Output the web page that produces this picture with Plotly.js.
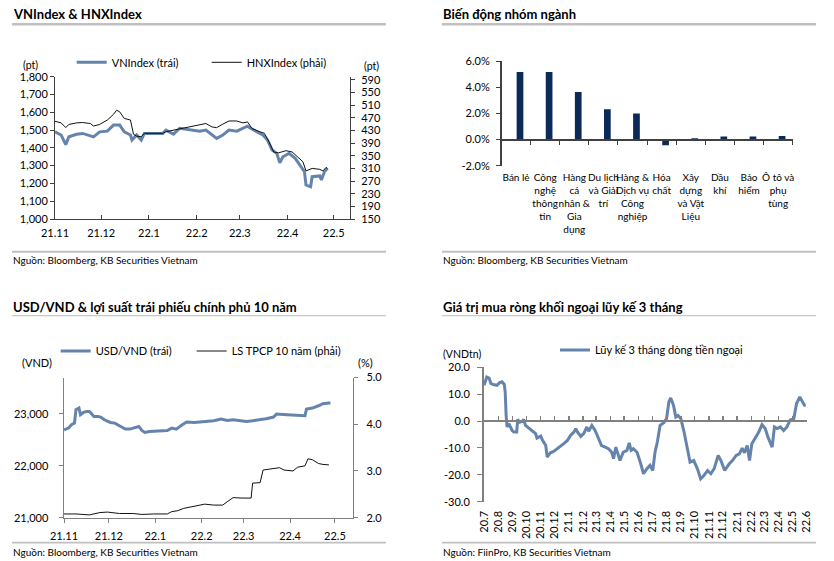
<!DOCTYPE html>
<html><head><meta charset="utf-8">
<script src="https://cdn.plot.ly/plotly-3.0.1.min.js"></script>
<style>html,body{margin:0;padding:0;background:#fff;}#chart{width:834px;height:561px;}</style>
</head><body><div id="chart"></div>
<script>
// ---------- Panel 1: VNIndex & HNXIndex ----------
const vnDates = ['2021-11-01','2021-11-05','2021-11-08','2021-11-10','2021-11-15','2021-11-19','2021-11-26','2021-11-30','2021-12-05','2021-12-09','2021-12-13','2021-12-16','2021-12-20','2021-12-21','2021-12-24','2021-12-27','2021-12-29','2022-01-02','2022-01-06','2022-01-10','2022-01-12','2022-01-17','2022-01-21','2022-01-28','2022-02-03','2022-02-07','2022-02-11','2022-02-14','2022-02-18','2022-02-22','2022-02-27','2022-03-03','2022-03-06','2022-03-08','2022-03-12','2022-03-16','2022-03-19','2022-03-22','2022-03-25','2022-03-27','2022-03-29','2022-04-02','2022-04-06','2022-04-10','2022-04-12','2022-04-13','2022-04-16','2022-04-17','2022-04-22','2022-04-23','2022-04-25','2022-04-27'];
const vnIndex = [1490,1472,1418,1462,1476,1481,1462,1490,1494,1528,1528,1490,1472,1444,1472,1444,1481,1481,1481,1481,1500,1477,1510,1500,1494,1500,1472,1453,1472,1500,1494,1510,1522,1510,1490,1472,1444,1388,1369,1316,1350,1369,1341,1294,1266,1191,1181,1238,1242,1219,1266,1285];
const hnxDates = ['2021-11-01','2021-11-05','2021-11-08','2021-11-10','2021-11-15','2021-11-19','2021-11-24','2021-11-26','2021-11-30','2021-12-05','2021-12-09','2021-12-11','2021-12-13','2021-12-16','2021-12-20','2021-12-22','2021-12-24','2021-12-27','2021-12-29','2022-01-02','2022-01-10','2022-01-12','2022-01-17','2022-01-21','2022-01-28','2022-02-03','2022-02-07','2022-02-11','2022-02-14','2022-02-18','2022-02-22','2022-02-27','2022-03-03','2022-03-06','2022-03-09','2022-03-14','2022-03-17','2022-03-20','2022-03-23','2022-03-26','2022-03-29','2022-03-31','2022-04-04','2022-04-08','2022-04-11','2022-04-13','2022-04-17','2022-04-22','2022-04-24','2022-04-26','2022-04-27'];
const hnxIndex = [459,454,439,449,454,455,452,444,449,463,481,494,489,468,463,418,412,410,421,421,421,426,431,436,441,447,452,441,439,450,460,460,454,457,436,426,421,394,362,359,362,366,362,345,331,302,310,307,302,313,310];
const p1TickVals = ['2021-11-01','2021-12-01','2022-01-01','2022-02-01','2022-03-01','2022-04-01','2022-05-01'];
const p1TickText = ['21.11','21.12','22.1','22.2','22.3','22.4','22.5'];

// ---------- Panel 2: sector change ----------
const sectorLabels = ['Bán lẻ','Công<br>nghệ<br>thông<br>tin','Hàng<br>cá<br>nhân &<br>Gia<br>dụng','Du lịch<br>và Giải<br>trí','Hàng &<br>Dịch vụ<br>Công<br>nghiệp','Hóa<br>chất','Xây<br>dựng<br>và Vật<br>Liệu','Dầu<br>khí','Bảo<br>hiểm','Ô tô và<br>phụ<br>tùng'];
const sectorChange = [5.16,5.16,3.63,2.31,1.98,-0.43,0.1,0.23,0.23,0.26];
const p2TickVals = [-2,0,2,4,6];
const p2TickText = ['-2.0%','0.0%','2.0%','4.0%','6.0%'];

// ---------- Panel 3: USD/VND & 10Y bond yield ----------
const usdDates = ['2021-11-01','2021-11-04','2021-11-06','2021-11-08','2021-11-09','2021-11-11','2021-11-12','2021-11-14','2021-11-16','2021-11-18','2021-11-21','2021-11-24','2021-11-26','2021-11-28','2021-12-02','2021-12-05','2021-12-08','2021-12-12','2021-12-15','2021-12-18','2021-12-21','2021-12-23','2021-12-25','2021-12-28','2022-01-02','2022-01-09','2022-01-12','2022-01-15','2022-01-19','2022-01-22','2022-01-27','2022-01-31','2022-02-04','2022-02-09','2022-02-14','2022-02-18','2022-02-22','2022-02-28','2022-03-03','2022-03-07','2022-03-12','2022-03-16','2022-03-21','2022-03-23','2022-03-30','2022-04-05','2022-04-11','2022-04-12','2022-04-16','2022-04-20','2022-04-23','2022-04-27','2022-04-28'];
const usdVnd = [22693,22726,22790,22822,23079,23112,22983,23027,23046,23046,22950,22950,22930,22886,22834,22822,22770,22706,22706,22726,22757,22680,22641,22660,22674,22680,22726,22706,22790,22842,22834,22842,22853,22867,22899,22873,22886,22873,22853,22867,22886,22905,22938,22996,22983,22970,22963,23093,23112,23156,23195,23208,23208];
const bondDates = ['2021-11-01','2021-11-09','2021-11-18','2021-11-25','2021-11-30','2021-12-08','2021-12-17','2021-12-23','2021-12-31','2022-01-09','2022-01-12','2022-01-16','2022-01-20','2022-01-23','2022-01-27','2022-01-30','2022-02-03','2022-02-09','2022-02-15','2022-02-18','2022-02-22','2022-02-28','2022-03-06','2022-03-07','2022-03-10','2022-03-12','2022-03-14','2022-03-18','2022-03-25','2022-03-28','2022-04-03','2022-04-06','2022-04-11','2022-04-13','2022-04-16','2022-04-20','2022-04-23','2022-04-27'];
const bondYield = [2.08,2.08,2.06,2.11,2.12,2.09,2.09,2.07,2.08,2.08,2.13,2.15,2.20,2.22,2.24,2.27,2.29,2.27,2.27,2.34,2.43,2.42,2.42,2.74,2.75,2.75,3.02,3.04,3.07,3.02,3.00,3.08,3.11,3.26,3.24,3.16,3.14,3.13];
const p3TickVals = p1TickVals;
const p3TickText = p1TickText;

// ---------- Panel 4: foreign net buying, 3-month cumulative ----------
const flowDates = ['2020-07-01','2020-07-07','2020-07-12','2020-07-16','2020-07-21','2020-07-29','2020-08-04','2020-08-09','2020-08-14','2020-08-16','2020-08-18','2020-08-20','2020-08-24','2020-08-27','2020-08-31','2020-09-04','2020-09-10','2020-09-12','2020-09-16','2020-09-22','2020-09-25','2020-09-29','2020-10-06','2020-10-13','2020-10-21','2020-10-24','2020-11-01','2020-11-05','2020-11-08','2020-11-12','2020-11-15','2020-11-22','2020-11-29','2020-12-07','2020-12-14','2020-12-21','2020-12-29','2021-01-05','2021-01-12','2021-01-16','2021-01-20','2021-01-27','2021-02-03','2021-02-09','2021-02-13','2021-02-20','2021-02-27','2021-03-06','2021-03-13','2021-03-21','2021-03-28','2021-04-04','2021-04-08','2021-04-13','2021-04-18','2021-04-22','2021-04-29','2021-05-07','2021-05-12','2021-05-16','2021-05-21','2021-05-29','2021-06-05','2021-06-12','2021-06-19','2021-06-26','2021-07-02','2021-07-07','2021-07-12','2021-07-18','2021-07-26','2021-08-01','2021-08-06','2021-08-10','2021-08-16','2021-08-21','2021-08-26','2021-09-01','2021-09-08','2021-09-15','2021-09-21','2021-09-29','2021-10-07','2021-10-14','2021-10-21','2021-10-29','2021-11-05','2021-11-12','2021-11-21','2021-11-27','2021-12-05','2021-12-15','2021-12-22','2021-12-30','2022-01-06','2022-01-12','2022-01-17','2022-01-23','2022-01-28','2022-02-02','2022-02-11','2022-02-17','2022-02-24','2022-03-03','2022-03-09','2022-03-18','2022-03-23','2022-03-29','2022-04-05','2022-04-12','2022-04-19','2022-04-26','2022-05-04','2022-05-10','2022-05-17','2022-05-22','2022-05-27','2022-05-30'];
const flowValues = [13.3,16.4,16.0,14.0,13.6,13.3,14.3,14.6,13.6,10.8,2.1,-2.2,-1.0,-2.2,-3.5,-4.1,-4.1,0.6,-0.4,-0.1,0.6,-1.6,-2.6,-3.5,-4.7,-6.3,-5.6,-7.2,-8.1,-9.1,-13.4,-11.8,-11.3,-10.3,-9.4,-8.4,-7.2,-5.3,-4.1,-2.8,-4.1,-5.7,-4.5,-2.2,-3.8,-1.6,-3.5,-6.0,-9.1,-9.7,-10.3,-11.6,-14.0,-9.7,-12.2,-14.7,-11.6,-10.9,-8.1,-10.9,-10.3,-11.6,-15.3,-19.6,-17.8,-16.5,-18.4,-11.6,-7.8,-1.6,-0.6,0.9,7.1,8.6,5.9,1.5,2.1,0.9,-4.1,-10.3,-15.3,-14.7,-17.8,-21.5,-20.3,-18.4,-19.6,-17.8,-12.8,-14.7,-18.4,-15.9,-14.7,-12.8,-12.2,-10.1,-11.8,-9.1,-14.7,-8.4,-6.0,-4.1,-1.3,-2.8,-6.0,-9.7,-2.2,-2.8,-2.2,-3.5,-2.2,0.3,0.9,6.5,9.0,7.7,5.9,5.9];
const p4TickVals = ['2020-07-01','2020-08-01','2020-09-01','2020-10-01','2020-11-01','2020-12-01','2021-01-01','2021-02-01','2021-03-01','2021-04-01','2021-05-01','2021-06-01','2021-07-01','2021-08-01','2021-09-01','2021-10-01','2021-11-01','2021-12-01','2022-01-01','2022-02-01','2022-03-01','2022-04-01','2022-05-01','2022-06-01'];
const p4TickText = ['20.7','20.8','20.9','20.10','20.11','20.12','21.1','21.2','21.3','21.4','21.5','21.6','21.7','21.8','21.9','21.10','21.11','21.12','22.1','22.2','22.3','22.4','22.5','22.6'];
const p4YTickVals = [-30,-20,-10,0,10,20];
const p4YTickText = ['-30.0','-20.0','-10.0','0.0','10.0','20.0'];

// ---------- Layout helpers ----------
const W = 834, H = 561;
const fx = p => p / W, fy = p => 1 - p / H;
const FONT = "Lato, 'Noto Sans', 'DejaVu Sans', sans-serif";
const BLUE = '#6584ad', BLACK = '#111111', NAVY = '#0b2a57';
const DARK = '#404040', GREY = '#808080', RULE = '#c0c0c0';
const tf = (s) => ({family: FONT, size: s, color: '#000'});

const traces = [
  {type:'scatter', mode:'lines', x: vnDates, y: vnIndex, xaxis:'x', yaxis:'y', name:'VNIndex (trái)', legend:'legend', line:{color:BLUE, width:3}},
  {type:'scatter', mode:'lines', x: hnxDates, y: hnxIndex, xaxis:'x', yaxis:'y2', name:'HNXIndex (phải)', legend:'legend2', line:{color:BLACK, width:1}},
  {type:'bar', x: sectorLabels, y: sectorChange, xaxis:'x2', yaxis:'y3', showlegend:false, marker:{color:NAVY}, width:0.23, offset:0.02},
  {type:'scatter', mode:'lines', x: [], y: [], xaxis:'x5', yaxis:'y3', showlegend:false},
  {type:'scatter', mode:'lines', x: usdDates, y: usdVnd, xaxis:'x3', yaxis:'y4', name:'USD/VND (trái)', legend:'legend3', line:{color:BLUE, width:3}},
  {type:'scatter', mode:'lines', x: bondDates, y: bondYield, xaxis:'x3', yaxis:'y5', name:'LS TPCP 10 năm (phải)', legend:'legend4', line:{color:BLACK, width:1}},
  {type:'scatter', mode:'lines', x: flowDates, y: flowValues, xaxis:'x4', yaxis:'y6', name:'Lũy kế 3 tháng dòng tiền ngoại', legend:'legend5', line:{color:BLUE, width:3}},
  {type:'scatter', mode:'lines', x: [], y: [], xaxis:'x6', yaxis:'y6', showlegend:false}
];

const baseAx = {showgrid:false, zeroline:false, showline:true, fixedrange:true, tickfont: tf(11)};
const legendBase = (x, y) => ({x: fx(x), y: fy(y), xanchor:'left', yanchor:'middle', orientation:'h', bgcolor:'rgba(0,0,0,0)', borderwidth:0, font: tf(11)});

const layout = {
  width: W, height: H, margin: {l:0, r:0, t:0, b:0}, paper_bgcolor:'#fff', plot_bgcolor:'rgba(0,0,0,0)',
  font: {family: FONT, color:'#000'}, showlegend: true, hovermode: false,
  // panel 1
  xaxis: Object.assign({}, baseAx, {domain:[fx(55), fx(350)], anchor:'y', type:'date', range:['2021-11-01','2022-05-11 14:00'], tickmode:'array', tickvals:p1TickVals, ticktext:p1TickText, ticks:'inside', ticklen:4, linecolor:DARK, tickcolor:DARK, ticklabelstandoff:4}),
  yaxis: Object.assign({}, baseAx, {domain:[fy(219), fy(76.7)], anchor:'x', range:[1000,1800], dtick:100, tickformat:',', ticks:'outside', ticklen:4, linecolor:DARK, tickcolor:DARK}),
  yaxis2: Object.assign({}, baseAx, {overlaying:'y', side:'right', anchor:'x', range:[150,600], tick0:150, dtick:40, ticks:'outside', ticklen:4, linecolor:DARK, tickcolor:DARK, ticklabelstandoff:4}),
  // panel 2
  xaxis2: Object.assign({}, baseAx, {domain:[fx(501.5), fx(792.7)], anchor:'y3', type:'category', range:[-0.5, 9.5], showline:false, ticks:'', tickangle:0, tickfont: tf(10), ticklabelstandoff:4}),
  xaxis5: Object.assign({}, baseAx, {overlaying:'x2', anchor:'free', position: fy(139.3), type:'linear', range:[-0.5, 9.5], tickmode:'array', tickvals: sectorLabels.map((_, i) => i + 0.5), showticklabels:false, ticks:'outside', ticklen:4, linecolor:DARK, tickcolor:DARK, linewidth:1.5}),
  yaxis3: Object.assign({}, baseAx, {domain:[fy(165.7), fy(61)], anchor:'x2', range:[-2,6], tickmode:'array', tickvals:p2TickVals, ticktext:p2TickText, ticks:'outside', ticklen:4, linecolor:DARK, tickcolor:DARK, linewidth:1.5, ticklabelstandoff:4}),
  // panel 3
  xaxis3: Object.assign({}, baseAx, {domain:[fx(64), fx(352.7)], anchor:'y4', type:'date', range:['2021-11-01','2022-05-12 21:00'], tickmode:'array', tickvals:p3TickVals, ticktext:p3TickText, ticks:'outside', ticklen:4, linecolor:GREY, tickcolor:GREY, linewidth:1.5, ticklabelstandoff:4}),
  yaxis4: Object.assign({}, baseAx, {domain:[fy(517.7), fy(377.5)], anchor:'x3', range:[21000,23700], tickmode:'array', tickvals:[21000,22000,23000], tickformat:',', ticks:'outside', ticklen:4, linecolor:GREY, tickcolor:GREY, linewidth:1.5, ticklabelstandoff:8}),
  yaxis5: Object.assign({}, baseAx, {overlaying:'y4', side:'right', anchor:'x3', range:[2,5], dtick:1, tickformat:'.1f', ticks:'outside', ticklen:4, linecolor:GREY, tickcolor:GREY, linewidth:1.5, ticklabelstandoff:6}),
  // panel 4
  xaxis4: Object.assign({}, baseAx, {domain:[fx(484), fx(806.7)], anchor:'y6', type:'date', range:['2020-07-01','2022-06-01'], tickmode:'array', tickvals:p4TickVals, ticktext:p4TickText, tickangle:-90, showline:false, ticks:'', ticklabelstandoff:6}),
  xaxis6: Object.assign({}, baseAx, {overlaying:'x4', anchor:'free', position: fy(420.7), type:'date', range:['2020-07-01','2022-06-01'], tickmode:'array', tickvals:p4TickVals, showticklabels:false, ticks:'inside', ticklen:4, linecolor:GREY, tickcolor:GREY, linewidth:2, tickwidth:1.5}),
  yaxis6: Object.assign({}, baseAx, {domain:[fy(501.7), fy(367.3)], anchor:'x4', range:[-30,20], tickmode:'array', tickvals:p4YTickVals, ticktext:p4YTickText, ticks:'outside', ticklen:5, linecolor:GREY, tickcolor:GREY, linewidth:2, ticklabelstandoff:5}),
  legend: legendBase(71.7, 62.3),
  legend2: legendBase(206.7, 62.3),
  legend3: legendBase(55.7, 351),
  legend4: legendBase(191.7, 351),
  legend5: legendBase(555, 350),
  annotations: [],
  shapes: []
};

const ann = (text, x, y, size, opts) => Object.assign({text, x: fx(x), y: fy(y), xref:'paper', yref:'paper', showarrow:false, xanchor:'left', yanchor:'middle', font: tf(size)}, opts || {});
const boldFont = s => ({family: FONT, size: s, color:'#000', weight:'bold'});

layout.annotations.push(
  ann('VNIndex & HNXIndex', 11, 14, 13, {font: boldFont(13)}),
  ann('Biến động nhóm ngành', 441, 14, 13, {font: boldFont(13)}),
  ann('USD/VND & lợi suất trái phiếu chính phủ 10 năm', 11, 306.5, 13, {font: boldFont(13)}),
  ann('Giá trị mua ròng khối ngoại lũy kế 3 tháng', 441, 306.5, 13, {font: boldFont(13)}),
  ann('Nguồn: Bloomberg, KB Securities Vietnam', 11, 259.5, 10),
  ann('Nguồn: Bloomberg, KB Securities Vietnam', 441, 259.5, 10),
  ann('Nguồn: Bloomberg, KB Securities Vietnam', 11, 551.7, 10),
  ann('Nguồn: FiinPro, KB Securities Vietnam', 441, 551.7, 10),
  ann('(pt)', 21, 64.5, 10.5),
  ann('(pt)', 362, 66, 10.5),
  ann('(VND)', 20, 362.7, 11),
  ann('(%)', 355.5, 362.7, 11),
  ann('(VNDtn)', 441, 353.5, 10.5)
);

const rule = (x0, x1, y, w, c) => ({type:'line', xref:'paper', yref:'paper', x0: fx(x0), x1: fx(x1), y0: fy(y), y1: fy(y), line:{color: c || RULE, width: w}});
layout.shapes.push(
  rule(12, 386, 24.3, 2.5), rule(442, 816, 24.3, 2.5),
  rule(12, 386, 251.7, 2), rule(442, 816, 251.7, 2),
  rule(12, 386, 315.7, 1.3, '#c8c8c8'), rule(442, 816, 315.7, 1.3, '#c8c8c8'),
  rule(12, 386, 542.7, 1.7), rule(442, 816, 542.7, 1.7)
);

Plotly.newPlot('chart', traces, layout, {staticPlot: true, displayModeBar: false});
</script></body></html>
